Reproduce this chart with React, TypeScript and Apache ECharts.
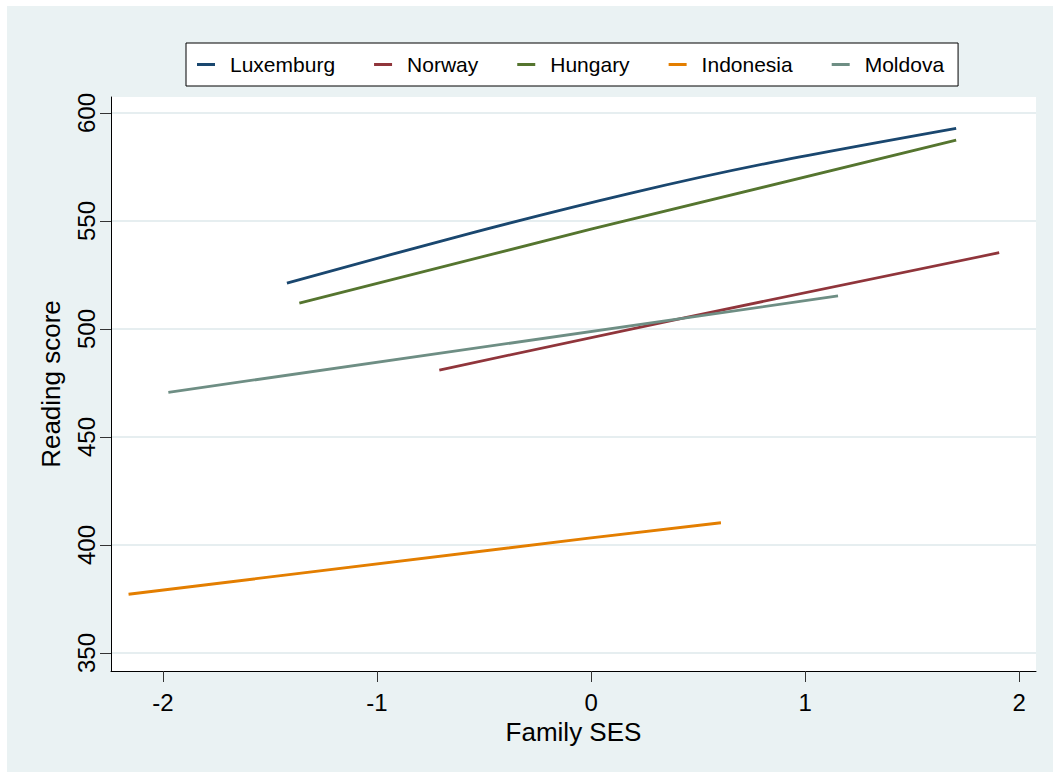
import React, { useEffect, useRef } from "react";
import * as echarts from "echarts";

const countries = ["Luxemburg", "Norway", "Hungary", "Indonesia", "Moldova"];
const colors = ["#1a476f", "#90353b", "#55752f", "#e37e00", "#6e8e84"];

const luxX = [-1.421, -0.565, 0.182, 0.822, 1.706];
const luxY = [521.2, 544.3, 562.8, 576.7, 592.9];
const norX = [-0.709, 0.435, 1.907];
const norY = [481.0, 505.2, 535.3];
const hunX = [-1.363, 0.0, 1.706];
const hunY = [512.0, 546.2, 587.4];
const indX = [-2.161, 0.0, 0.607];
const indY = [377.2, 403.3, 410.3];
const molX = [-1.975, 0.435, 1.154];
const molY = [470.7, 505.0, 515.3];

const yTicks = [350, 400, 450, 500, 550, 600];
const xTicks = [-2, -1, 0, 1, 2];

const seriesX = [luxX, norX, hunX, indX, molX];
const seriesY = [luxY, norY, hunY, indY, molY];

const FONT = "'Liberation Sans', Arial, Helvetica, sans-serif";

export default function App() {
  const ref = useRef<HTMLDivElement>(null);
  useEffect(() => {
    document.body.style.margin = "0";
    if (!ref.current) return;
    const chart = echarts.init(ref.current, undefined, { renderer: "svg" });
    chart.setOption({
      animation: false,
      backgroundColor: "#eaf2f3",
      textStyle: { fontFamily: FONT },
      grid: {
        left: 104,
        top: 91,
        right: 17,
        bottom: 101,
        show: true,
        backgroundColor: "#ffffff",
        borderWidth: 0,
      },
      legend: {
        left: 179,
        top: 37,
        padding: [11, 14, 11, 11],
        backgroundColor: "#ffffff",
        borderColor: "#000000",
        borderWidth: 1,
        borderRadius: 0,
        itemGap: 39,
        itemWidth: 18,
        itemHeight: 3,
        icon: "rect",
        textStyle: { fontSize: 21, color: "#000", fontFamily: FONT, padding: [0, 0, 0, 10] },
        data: countries,
      },
      xAxis: {
        type: "value",
        min: -2.243,
        max: 2.079,
        name: "Family SES",
        nameLocation: "middle",
        nameGap: 44,
        nameTextStyle: { fontSize: 26, color: "#000", fontFamily: FONT },
        axisLine: { show: true, onZero: false, lineStyle: { color: "#000", width: 1 } },
        axisTick: { show: true, length: 11, customValues: xTicks, lineStyle: { color: "#333", width: 1 } },
        axisLabel: {
          customValues: xTicks,
          fontSize: 24,
          color: "#000",
          margin: 19,
          fontFamily: FONT,
        },
        splitLine: { show: false },
      },
      yAxis: {
        type: "value",
        min: 341.67,
        max: 607.4,
        name: "Reading score",
        nameLocation: "middle",
        nameGap: 47,
        nameRotate: 90,
        nameTextStyle: { fontSize: 26, color: "#000", fontFamily: FONT },
        axisLine: { show: true, onZero: false, lineStyle: { color: "#000", width: 1 } },
        axisTick: { show: true, length: 11, customValues: yTicks, lineStyle: { color: "#333", width: 1 } },
        axisLabel: {
          customValues: yTicks,
          rotate: 90,
          fontSize: 24,
          color: "#000",
          margin: 13,
          fontFamily: FONT,
        },
        splitLine: { show: true, lineStyle: { color: "#e6eef0", width: 2 } },
      },
      series: countries.map((name, i) => ({
        name,
        type: "line",
        data: seriesX[i].map((x, j) => [x, seriesY[i][j]]),
        showSymbol: false,
        symbol: "none",
        smooth: name === "Luxemburg" ? 0.3 : false,
        color: colors[i],
        lineStyle: { color: colors[i], width: 2.8 },
      })),
    });
    return () => chart.dispose();
  }, []);
  return (
    <div style={{ position: "relative", width: 1053, height: 772, background: "#ffffff" }}>
      <div
        ref={ref}
        style={{ position: "absolute", left: 7, top: 6, width: 1046, height: 766 }}
      />
    </div>
  );
}
